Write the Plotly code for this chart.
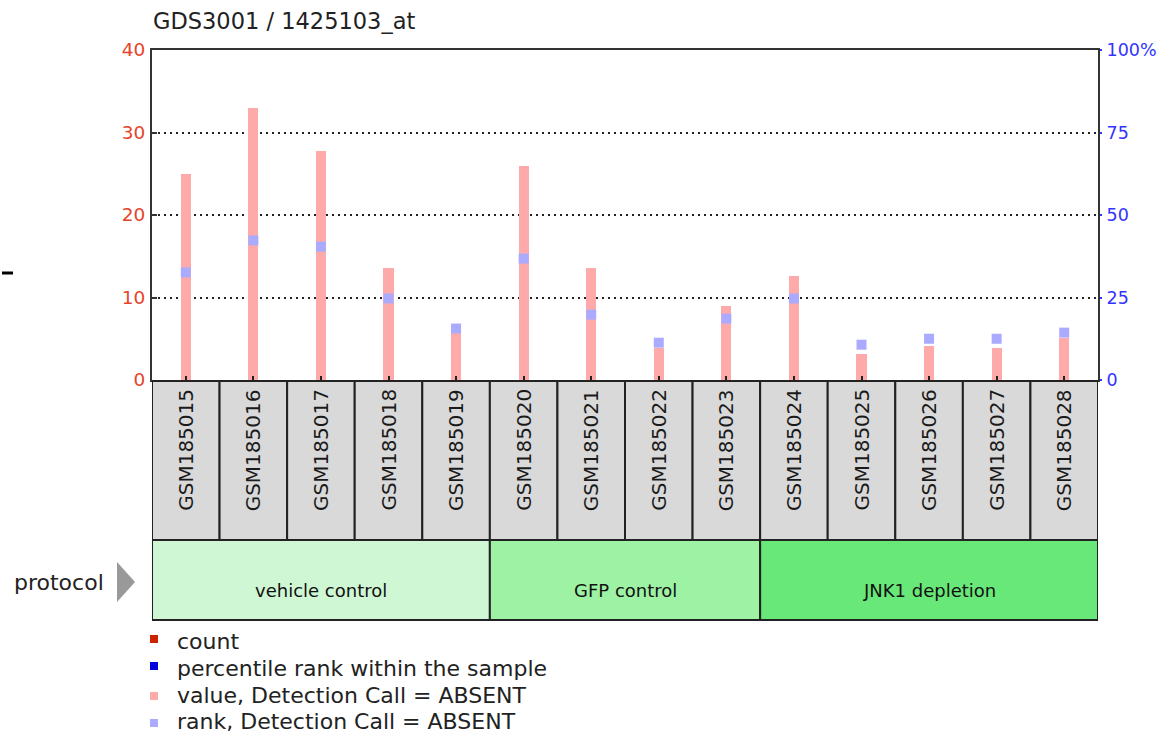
import plotly.graph_objects as go

# ---- data ----
title_text = "GDS3001 / 1425103_at"
samples = ["GSM185015", "GSM185016", "GSM185017", "GSM185018", "GSM185019",
           "GSM185020", "GSM185021", "GSM185022", "GSM185023",
           "GSM185024", "GSM185025", "GSM185026", "GSM185027", "GSM185028"]
counts = [25.0, 33.0, 27.7, 13.6, 6.2, 26.0, 13.6, 3.9, 9.0, 12.6, 3.15, 4.1, 3.9, 5.1]
ranks = [32.6, 42.3, 40.4, 24.7, 15.6, 36.8, 19.8, 11.3, 18.6, 24.7, 10.7, 12.5, 12.5, 14.35]
groups = ["vehicle control", "GFP control", "JNK1 depletion"]
group_sizes = [5, 4, 5]
group_colors = ["#cff7d4", "#9df2a3", "#68e878"]
left_ticks = [0, 10, 20, 30, 40]
right_ticks = [0, 25, 50, 75, 100]
right_ticktext = ["0", "25", "50", "75", "100%"]
legend_labels = ["count", "percentile rank within the sample",
                 "value, Detection Call = ABSENT", "rank, Detection Call = ABSENT"]
legend_colors = ["#cc2200", "#0000dd", "#ffaaaa", "#aaaaff"]

FONT = "DejaVu Sans"
W, H = 1160, 740
L, R, T, B = 152, 1098, 50, 380  # plot area in pixels


def py(p):
    return (B - p) / (B - T)


def px(x):
    return (x - L) / (R - L)


fig = go.Figure()
fig.add_trace(go.Bar(x=samples, y=counts, width=0.15,
                     marker=dict(color="#ffaaaa", line=dict(width=0)),
                     name="value", showlegend=False, hoverinfo="x+y"))
fig.add_trace(go.Scatter(x=samples, y=ranks, yaxis="y2", mode="markers",
                         marker=dict(symbol="square", size=10, color="#aaaaff",
                                     line=dict(width=0)),
                         name="rank", showlegend=False))

shapes = []
annotations = []

# sample cells
for i, s in enumerate(samples):
    shapes.append(dict(type="rect", xref="x", yref="paper",
                       x0=i - 0.5, x1=i + 0.5, y0=py(540), y1=py(381),
                       fillcolor="#d9d9d9", line=dict(color="#222222", width=2),
                       layer="above"))
    annotations.append(dict(x=s, xref="x", y=py(450), yref="paper",
                            text=s, textangle=-90, showarrow=False,
                            font=dict(family=FONT, size=20, color="#1a1a1a"),
                            xanchor="center", yanchor="middle"))

# protocol groups
start = 0
for g, n, c in zip(groups, group_sizes, group_colors):
    shapes.append(dict(type="rect", xref="x", yref="paper",
                       x0=start - 0.5, x1=start + n - 0.5, y0=py(620), y1=py(540),
                       fillcolor=c, line=dict(color="#222222", width=2),
                       layer="above"))
    annotations.append(dict(x=start + (n - 1) / 2, xref="x", y=py(590), yref="paper",
                            text=g, showarrow=False,
                            font=dict(family=FONT, size=18, color="#111111"),
                            xanchor="center", yanchor="middle"))
    start += n

# protocol label and arrow
annotations.append(dict(x=px(106), xref="paper", y=py(582), yref="paper",
                        text="protocol", showarrow=False,
                        font=dict(family=FONT, size=22, color="#222222"),
                        xanchor="right", yanchor="middle"))
shapes.append(dict(type="path", xref="paper", yref="paper",
                   path=f"M {px(117)},{py(562)} L {px(135)},{py(582)} L {px(117)},{py(602)} Z",
                   fillcolor="#999999", line=dict(width=0)))

# title
annotations.append(dict(x=px(151), xref="paper", y=py(21), yref="paper",
                        text=title_text, showarrow=False,
                        font=dict(family=FONT, size=22.5, color="#222222"),
                        xanchor="left", yanchor="middle"))

# small dash at left edge
shapes.append(dict(type="line", xref="paper", yref="paper",
                   x0=px(2), x1=px(13), y0=py(273), y1=py(273),
                   line=dict(color="#000000", width=3)))

# legend
row_y = [641, 668, 695, 722]
sq_y = [639, 666, 696, 723]
for lab, col, ty, sy in zip(legend_labels, legend_colors, row_y, sq_y):
    shapes.append(dict(type="rect", xref="paper", yref="paper",
                       x0=px(150), x1=px(158), y0=py(sy + 4), y1=py(sy - 4),
                       fillcolor=col, line=dict(width=0)))
    annotations.append(dict(x=px(175), xref="paper", y=py(ty), yref="paper",
                            text=lab, showarrow=False,
                            font=dict(family=FONT, size=22, color="#222222"),
                            xanchor="left", yanchor="middle"))

fig.update_layout(
    width=W, height=H, autosize=False,
    margin=dict(l=L, r=W - R, t=T, b=H - B, pad=0, autoexpand=False),
    paper_bgcolor="white", plot_bgcolor="white",
    showlegend=False,
    bargap=0,
    font=dict(family=FONT, size=18),
    xaxis=dict(type="category", range=[-0.5, len(samples) - 0.5], automargin=False,
               showticklabels=False, ticks="inside", ticklen=4, tickcolor="#222222",
               tickwidth=2, showline=True, linecolor="#333333", linewidth=2,
               mirror=True, showgrid=False, zeroline=False, fixedrange=True),
    yaxis=dict(range=[0, 40], tickvals=left_ticks, ticks="inside", ticklen=5,
               automargin=False,
               tickcolor="#333333", tickwidth=2,
               tickfont=dict(family=FONT, size=18.5, color="#e8432a"),
               showline=True, linecolor="#333333", linewidth=2,
               showgrid=True, gridcolor="#222222", gridwidth=2, griddash="2px,4px",
               zeroline=False, ticklabelstandoff=1),
    yaxis2=dict(range=[0, 100], overlaying="y", side="right", automargin=False,
                tickvals=right_ticks, ticktext=right_ticktext,
                ticks="outside", ticklen=2, tickcolor="#3333ff", tickwidth=2,
                tickfont=dict(family=FONT, size=17.5, color="#3333ff"),
                showline=True, linecolor="#333333", linewidth=2,
                showgrid=False, zeroline=False, ticklabelstandoff=1),
    shapes=shapes,
    annotations=annotations,
)

fig.write_html(
    "out.html",
    config={"displayModeBar": False, "responsive": False},
    post_script="document.body.style.margin='0';document.body.style.padding='0';"
                "document.body.style.overflow='hidden';",
)
